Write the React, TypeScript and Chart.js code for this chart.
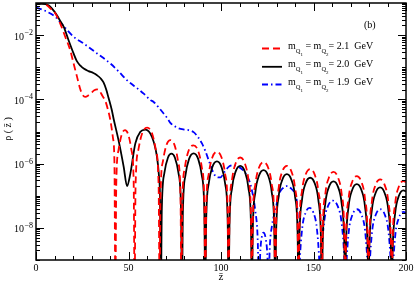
import React, { useEffect, useRef } from "react";
import { Chart, registerables } from "chart.js";

Chart.register(...registerables);

// ---- data (z-bar, rho) ----
const redZ = [0, 3, 5.9, 8, 10.4, 13.1, 15.8, 18.5, 20.3, 22.2, 23.9, 25.2, 26.6, 28.2, 29.8, 31.5, 33, 34.5, 35.8, 37.5, 38.8, 40.2, 41.6, 42.4, 42.9,
  43.4, 44.6, 46.3, 48.1, 49.9, 51.6, 52.8, 53.3,
  53.8, 55.3, 57.3, 60.05, 62.8, 64.8, 66.3, 66.8,
  67.3, 68.7, 70.6, 72.7, 74.8, 76.7, 78.1, 78.6,
  79.1, 80.5, 82.4, 85.05, 87.7, 89.6, 91.0, 91.5,
  92.0, 93.4, 95.3, 97.8, 100.3, 102.2, 103.6, 104.1,
  104.6, 106.0, 107.9, 110.4, 112.9, 114.8, 116.2, 116.7,
  117.2, 118.6, 120.5, 123.0, 125.5, 127.4, 128.8, 129.3,
  129.8, 131.2, 133.1, 135.6, 138.1, 140.0, 141.4, 141.9,
  142.4, 143.8, 145.7, 148.2, 150.7, 152.6, 154.0, 154.5,
  155.0, 156.4, 158.3, 160.8, 163.3, 165.2, 166.6, 167.1,
  167.6, 169.0, 170.9, 173.4, 175.9, 177.8, 179.2, 179.7,
  180.2, 181.6, 183.5, 186.0, 188.5, 190.4, 191.8, 192.3,
  192.8, 194.2, 196.1, 198.6, 200];
const redRho = [1.07e-1, 1.05e-1, 8.51e-2, 6.61e-2, 4.79e-2, 2.29e-2, 8.91e-3, 3.39e-3, 1.32e-3, 5.01e-4, 2.09e-4, 1.38e-4, 1.2e-4, 1.32e-4, 1.58e-4, 1.91e-4, 2.04e-4, 1.78e-4, 1.32e-4, 8.91e-5, 5.01e-5, 2.24e-5, 6.31e-6, 1.0e-6, 1e-10,
  2.45e-7, 2.63e-6, 7.94e-6, 1.10e-5, 7.94e-6, 2.63e-6, 2.45e-7, 1e-10,
  1.78e-7, 2.63e-6, 8.51e-6, 1.32e-5, 8.51e-6, 2.63e-6, 1.78e-7, 1e-10,
  9.55e-8, 1.26e-6, 3.89e-6, 5.37e-6, 3.89e-6, 1.26e-6, 9.55e-8, 1e-10,
  5.75e-8, 7.76e-7, 2.45e-6, 3.72e-6, 2.45e-6, 7.76e-7, 5.75e-8, 1e-10,
  3.63e-8, 4.9e-7, 1.55e-6, 2.34e-6, 1.55e-6, 4.9e-7, 3.63e-8, 1e-10,
  2.4e-8, 3.24e-7, 1.02e-6, 1.55e-6, 1.02e-6, 3.24e-7, 2.4e-8, 1e-10,
  1.74e-8, 2.34e-7, 7.41e-7, 1.12e-6, 7.41e-7, 2.34e-7, 1.74e-8, 1e-10,
  1.32e-8, 1.78e-7, 5.62e-7, 8.51e-7, 5.62e-7, 1.78e-7, 1.32e-8, 1e-10,
  1.05e-8, 1.41e-7, 4.47e-7, 6.76e-7, 4.47e-7, 1.41e-7, 1.05e-8, 1e-10,
  8.51e-9, 1.15e-7, 3.63e-7, 5.5e-7, 3.63e-7, 1.15e-7, 8.51e-9, 1e-10,
  6.31e-9, 8.51e-8, 2.69e-7, 4.07e-7, 2.69e-7, 8.51e-8, 6.31e-9, 1e-10,
  5.01e-9, 6.76e-8, 2.14e-7, 3.24e-7, 2.14e-7, 6.76e-8, 5.01e-9, 1e-10,
  4.47e-9, 6.03e-8, 1.91e-7, 2.88e-7, 2.63e-7];

const blackZ = [0, 3, 6.8, 9, 11.3, 13, 15, 17.6, 20.3, 22, 24, 26, 28.4, 31, 33, 35, 36.5, 38, 39.2, 41, 42, 44.6, 47.4, 49.2, 51, 53.7, 56.4, 59.1, 62.7, 65.4, 66.5, 67.0, 67.5,
  68.0, 69.4, 71.3, 73.2, 75.1, 77.0, 78.4, 78.9,
  79.4, 80.8, 82.7, 85.2, 87.7, 89.6, 91.0, 91.5,
  92.0, 93.4, 95.3, 97.8, 100.3, 102.2, 103.6, 104.1,
  104.6, 106.0, 107.9, 110.4, 112.9, 114.8, 116.2, 116.7,
  117.2, 118.6, 120.5, 123.0, 125.5, 127.4, 128.8, 129.3,
  129.8, 131.2, 133.1, 135.6, 138.1, 140.0, 141.4, 141.9,
  142.4, 143.8, 145.7, 148.2, 150.7, 152.6, 154.0, 154.5,
  155.0, 156.4, 158.3, 160.8, 163.3, 165.2, 166.6, 167.1,
  167.6, 169.0, 170.9, 173.4, 175.9, 177.8, 179.2, 179.7,
  180.2, 181.6, 183.5, 186.0, 188.5, 190.4, 191.8, 192.3,
  192.8, 194.2, 196.1, 198.6, 200];
const blackRho = [9.12e-2, 9.33e-2, 8.51e-2, 6.31e-2, 4.17e-2, 2.82e-2, 1.82e-2, 6.92e-3, 2.69e-3, 1.58e-3, 1.12e-3, 8.91e-4, 7.59e-4, 6.61e-4, 5.62e-4, 4.47e-4, 3.39e-4, 2.0e-4, 1.12e-4, 4.57e-5, 2.4e-5, 5.37e-6, 7.94e-7, 2.0e-7, 4.9e-7, 4.27e-6, 9.77e-6, 1.15e-5, 6.76e-6, 1.62e-6, 3.98e-7, 1.0e-7, 1e-10,
  3.89e-8, 5.13e-7, 1.53e-6, 2.04e-6, 1.53e-6, 5.13e-7, 3.89e-8, 1e-10,
  3.24e-8, 4.37e-7, 1.38e-6, 2.09e-6, 1.38e-6, 4.37e-7, 3.24e-8, 1e-10,
  1.82e-8, 2.45e-7, 7.76e-7, 1.17e-6, 7.76e-7, 2.45e-7, 1.82e-8, 1e-10,
  1.32e-8, 1.78e-7, 5.62e-7, 8.51e-7, 5.62e-7, 1.78e-7, 1.32e-8, 1e-10,
  9.77e-9, 1.32e-7, 4.17e-7, 6.31e-7, 4.17e-7, 1.32e-7, 9.77e-9, 1e-10,
  7.24e-9, 9.77e-8, 3.09e-7, 4.68e-7, 3.09e-7, 9.77e-8, 7.24e-9, 1e-10,
  5.62e-9, 7.59e-8, 2.4e-7, 3.63e-7, 2.4e-7, 7.59e-8, 5.62e-9, 1e-10,
  4.37e-9, 5.89e-8, 1.86e-7, 2.82e-7, 1.86e-7, 5.89e-8, 4.37e-9, 1e-10,
  3.55e-9, 4.79e-8, 1.51e-7, 2.29e-7, 1.51e-7, 4.79e-8, 3.55e-9, 1e-10,
  2.82e-9, 3.8e-8, 1.2e-7, 1.82e-7, 1.2e-7, 3.8e-8, 2.82e-9, 1e-10,
  2.29e-9, 3.09e-8, 9.77e-8, 1.48e-7, 1.35e-7];

const blueZ = [0, 3, 5.9, 10.4, 14.9, 20.3, 25.7, 33, 40.1, 45, 49.1, 55.5, 58.2, 61.8, 63.6, 66.3, 69, 70.8, 72.6, 75, 77.1, 80, 82.5, 85.2, 87.5, 89.7, 91.5, 93.3, 96, 97.8, 99.6, 102, 104.1, 106.8, 109.5, 112.2, 114.2, 115.8, 117.3, 118.5, 119.8, 120.6, 121.2, 122.0, 123.0, 124.2, 125.1, 125.7, 126.3, 127.5, 129.4, 131.2, 133.5, 135.7, 138, 140.2, 141.4, 142.0,
  142.5, 143.9, 145.8, 147.85, 149.9, 151.8, 153.2, 153.7,
  154.2, 155.7, 157.7, 160.45, 163.2, 165.2, 166.7, 167.2,
  167.7, 169.1, 171.0, 173.5, 176.0, 177.9, 179.3, 179.8,
  180.3, 181.7, 183.6, 186.1, 188.6, 190.5, 191.9, 192.4,
  192.9, 194.3, 196.2, 198.7, 200];
const blueRho = [7.24e-2, 6.31e-2, 5.37e-2, 3.72e-2, 1.91e-2, 8.91e-3, 5.5e-3, 2.69e-3, 1.32e-3, 7.08e-4, 3.98e-4, 2.04e-4, 1.51e-4, 9.55e-5, 8.32e-5, 5.62e-5, 3.63e-5, 2.69e-5, 1.86e-5, 1.45e-5, 1.26e-5, 1.15e-5, 1.1e-5, 9.55e-6, 6.76e-6, 4.27e-6, 2.51e-6, 1.29e-6, 5.01e-7, 3.8e-7, 3.72e-7, 5.62e-7, 7.94e-7, 8.91e-7, 7.94e-7, 6.03e-7, 3.98e-7, 2.4e-7, 1.0e-7, 3.55e-8, 5.01e-9, 1e-10, 1.58e-9, 5.01e-9, 7.08e-9, 4.47e-9, 1.26e-9, 1e-10, 2.0e-9, 1.12e-8, 3.55e-8, 1.05e-7, 1.74e-7, 2.0e-7, 1.66e-7, 1.05e-7, 2.51e-8, 1e-10,
  7.41e-10, 9.77e-9, 3.02e-8, 4.17e-8, 3.02e-8, 9.77e-9, 7.41e-10, 1e-10,
  9.55e-10, 1.41e-8, 4.57e-8, 7.08e-8, 4.57e-8, 1.41e-8, 9.55e-10, 1e-10,
  5.89e-10, 7.94e-9, 2.51e-8, 3.8e-8, 2.51e-8, 7.94e-9, 5.89e-10, 1e-10,
  5.89e-10, 7.94e-9, 2.51e-8, 3.8e-8, 2.51e-8, 7.94e-9, 5.89e-10, 1e-10,
  4.9e-10, 6.61e-9, 2.09e-8, 3.16e-8, 2.88e-8];

const xTickLabels = [0, 50, 100, 150, 200];
const yLabelExponents = [-2, -4, -6, -8];
const massLabels = ["2.1", "2.0", "1.9"];
const panelLabel = "(b)";

const SERIF = '"Liberation Serif", "DejaVu Serif", serif';
const font = (s: number) => `${s}px ${SERIF}`;

const colors = ["#ff0000", "#000000", "#0000ff"];
const dashes: number[][] = [[7, 4], [], [6, 3, 1.5, 3]];

function drawRich(ctx: CanvasRenderingContext2D, x: number, y: number, parts: { t: string; s: number; dy: number }[]) {
  ctx.textAlign = "left";
  ctx.textBaseline = "alphabetic";
  for (const p of parts) {
    ctx.font = font(p.s);
    ctx.fillText(p.t, x, y + p.dy);
    x += ctx.measureText(p.t).width;
  }
}

const decorPlugin = {
  id: "decor",
  afterDraw(chart: any) {
    const { ctx, chartArea: a } = chart;
    const xs = chart.scales.x;
    const ys = chart.scales.y;
    ctx.save();
    // inward ticks
    ctx.strokeStyle = "#000";
    ctx.lineWidth = 1;
    ctx.beginPath();
    for (let v = 0; v <= 200; v += 10) {
      const px = Math.round(xs.getPixelForValue(v)) + 0.5;
      const len = v % 50 === 0 ? 8 : 4;
      ctx.moveTo(px, a.bottom); ctx.lineTo(px, a.bottom - len);
      ctx.moveTo(px, a.top); ctx.lineTo(px, a.top + len);
    }
    for (let k = -9; k <= -1; k++) {
      for (let m = 1; m <= 9; m++) {
        if (k === -1 && m > 1) continue;
        const v = m * Math.pow(10, k);
        const py = Math.round(ys.getPixelForValue(v)) + 0.5;
        const major = m === 1 && Math.abs(k) % 2 === 0;
        const len = major ? 8 : 4;
        ctx.moveTo(a.left, py); ctx.lineTo(a.left + len, py);
        ctx.moveTo(a.right, py); ctx.lineTo(a.right - len, py);
      }
    }
    ctx.stroke();
    ctx.lineWidth = 1.5;
    ctx.strokeRect(a.left, a.top, a.width, a.height);

    ctx.fillStyle = "#000";
    // x tick labels
    ctx.font = font(10);
    ctx.textAlign = "center";
    ctx.textBaseline = "alphabetic";
    xTickLabels.forEach((v) => ctx.fillText(String(v), xs.getPixelForValue(v), 271));
    // y tick labels 10^e
    yLabelExponents.forEach((e) => {
      const py = ys.getPixelForValue(Math.pow(10, e));
      ctx.font = font(10);
      const w1 = ctx.measureText("10").width;
      const sup = "\u2212" + Math.abs(e);
      ctx.font = font(8);
      const w2 = ctx.measureText(sup).width;
      const x0 = a.left - 3 - w1 - w2 - 0.5;
      ctx.textAlign = "left";
      ctx.font = font(10);
      ctx.fillText("10", x0, py + 4.5);
      ctx.font = font(8);
      ctx.fillText(sup, x0 + w1 + 0.5, py);
    });
    // axis titles
    ctx.font = font(11);
    ctx.textAlign = "center";
    ctx.fillText("z\u0304", xs.getPixelForValue(100), 280);
    ctx.save();
    ctx.translate(8, 129);
    ctx.rotate(-Math.PI / 2);
    ctx.textBaseline = "middle";
    ctx.font = font(10);
    ctx.fillText("\u03C1 ( z\u0304 )", 0, 0);
    ctx.restore();

    // panel label
    ctx.font = font(10);
    ctx.textAlign = "left";
    ctx.fillText(panelLabel, 364, 28);

    // legend
    const rows = [48.5, 66.8, 84.5];
    massLabels.forEach((mass, i) => {
      const yb = rows[i];
      ctx.save();
      ctx.strokeStyle = colors[i];
      ctx.lineWidth = 1.8;
      ctx.setLineDash(dashes[i]);
      ctx.beginPath();
      ctx.moveTo(262, yb);
      ctx.lineTo(282, yb);
      ctx.stroke();
      ctx.restore();
      drawRich(ctx, 288, yb, [
        { t: "m", s: 10, dy: 0 },
        { t: "Q", s: 6.5, dy: 4 },
        { t: "1", s: 5, dy: 7.5 },
        { t: " = ", s: 10, dy: 0 },
        { t: "m", s: 10, dy: 0 },
        { t: "Q", s: 6.5, dy: 4 },
        { t: "2", s: 5, dy: 7.5 },
        { t: "= " + mass + "  GeV", s: 10, dy: 0 },
      ]);
    });
    ctx.restore();
  },
};

function makeSet(zs: number[], rs: number[], i: number) {
  return {
    data: zs.map((z, k) => ({ x: z, y: rs[k] })),
    borderColor: colors[i],
    backgroundColor: colors[i],
    borderWidth: 1.8,
    borderDash: dashes[i],
    pointRadius: 0,
    fill: false,
    tension: 0.4,
    cubicInterpolationMode: "monotone" as const,
    capBezierPoints: false,
  };
}

export default function App() {
  const ref = useRef<HTMLCanvasElement>(null);
  useEffect(() => {
    const chart = new Chart(ref.current as HTMLCanvasElement, {
      type: "line",
      data: {
        datasets: [makeSet(redZ, redRho, 0), makeSet(blackZ, blackRho, 1), makeSet(blueZ, blueRho, 2)],
      },
      options: {
        responsive: false,
        animation: false,
        events: [],
        layout: { padding: { left: 36, top: 3, right: 9, bottom: 21 } },
        plugins: { legend: { display: false }, tooltip: { enabled: false } },
        scales: {
          x: { type: "linear", min: 0, max: 200, display: false },
          y: { type: "logarithmic", min: 1e-9, max: 1e-1, display: false },
        },
      } as any,
      plugins: [decorPlugin],
    });
    return () => chart.destroy();
  }, []);
  return (
    <div style={{ position: "fixed", left: 0, top: 0, width: 415, height: 281, background: "#fff" }}>
      <canvas ref={ref} width={415} height={281} style={{ width: 415, height: 281, display: "block" }} />
    </div>
  );
}
